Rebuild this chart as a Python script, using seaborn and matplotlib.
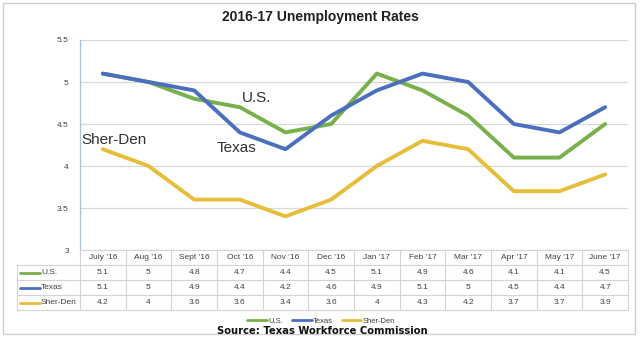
import matplotlib
matplotlib.use("Agg")
import matplotlib.pyplot as plt
from matplotlib.lines import Line2D
from matplotlib.patches import Rectangle
import seaborn as sns
import pandas as pd

months = ["July '16", "Aug '16", "Sept '16", "Oct '16", "Nov '16", "Dec '16",
          "Jan '17", "Feb '17", "Mar '17", "Apr '17", "May '17", "June '17"]
us = [5.1, 5, 4.8, 4.7, 4.4, 4.5, 5.1, 4.9, 4.6, 4.1, 4.1, 4.5]
texas = [5.1, 5, 4.9, 4.4, 4.2, 4.6, 4.9, 5.1, 5, 4.5, 4.4, 4.7]
sherden = [4.2, 4, 3.6, 3.6, 3.4, 3.6, 4, 4.3, 4.2, 3.7, 3.7, 3.9]
series_names = ["U.S.", "Texas", "Sher-Den"]
series_values = [us, texas, sherden]
yticks = [3, 3.5, 4, 4.5, 5, 5.5]
ytick_labels = ["3", "3.5", "4", "4.5", "5", "5.5"]

colors = {"U.S.": "#78B04C", "Texas": "#4A70BD", "Sher-Den": "#E6BE3C"}
zorders = {"U.S.": 3, "Sher-Den": 3, "Texas": 4}

sns.set_style("white")
plt.rcParams["font.family"] = ["Liberation Sans", "DejaVu Sans"]

rows = []
for name, vals in zip(series_names, series_values):
    for i, (m, v) in enumerate(zip(months, vals)):
        rows.append({"idx": i, "month": m, "series": name, "rate": v})
df = pd.DataFrame(rows)

W, H = 640, 338
fig = plt.figure(figsize=(W / 100, H / 100), dpi=100)

def fx(px):
    return px / W

def fy(py):
    return 1 - py / H

L, R, T, B = 80, 628, 40, 250
ax = fig.add_axes([fx(L), fy(B), fx(R) - fx(L), fy(T) - fy(B)])
for name in ["U.S.", "Sher-Den", "Texas"]:
    sub = df[df["series"] == name]
    sns.lineplot(data=sub, x="idx", y="rate", color=colors[name], lw=2.8,
                 ax=ax, legend=False, zorder=zorders[name])
ax.set_xlim(-0.5, 11.5)
ax.set_ylim(3, 5.5)
ax.set_yticks(yticks)
ax.set_yticklabels(ytick_labels, fontsize=6, color="#404040")
ax.set_xticks([])
ax.set_xlabel("")
ax.set_ylabel("")
ax.tick_params(axis="y", length=0, pad=8)
ax.grid(axis="y", color="#D9D9D9", lw=0.9)
ax.set_axisbelow(True)
for s in ["top", "right", "bottom"]:
    ax.spines[s].set_visible(False)
ax.spines["left"].set_color("#A9C0DC")
ax.spines["left"].set_linewidth(0.9)

# in-chart labels
ax.text(3.05, 4.815, "U.S.", fontsize=11, color="#303030", ha="left", va="center")
ax.text(2.5, 4.22, "Texas", fontsize=11, color="#303030", ha="left", va="center")
ax.text(-0.47, 4.31, "Sher-Den", fontsize=11, color="#303030", ha="left", va="center")

# data table
tax = fig.add_axes([fx(L), fy(310), fx(R) - fx(L), fy(250) - fy(310)])
tax.set_xlim(-0.5, 11.5)
tax.set_ylim(4, 0)
tax.axis("off")
gc = "#D4D4D4"
col_px = (R - L) / 12
x_left = -0.5 - (L - 17) / col_px
tax.plot([-0.5, 11.5], [0, 0], color=gc, lw=0.8, clip_on=False)
for r in [1, 2, 3, 4]:
    tax.plot([x_left, 11.5], [r, r], color=gc, lw=0.8, clip_on=False)
for c in range(13):
    tax.plot([c - 0.5, c - 0.5], [0, 4], color=gc, lw=0.8, clip_on=False)
tax.plot([x_left, x_left], [1, 4], color=gc, lw=0.8, clip_on=False)
for i, m in enumerate(months):
    tax.text(i, 0.5, m, ha="center", va="center", fontsize=6, color="#404040")
seg_w = 20 / col_px
for r, (name, vals) in enumerate(zip(series_names, series_values), start=1):
    for i, v in enumerate(vals):
        tax.text(i, r + 0.5, f"{v:g}", ha="center", va="center", fontsize=6, color="#404040")
    x0 = x_left + 3 / col_px
    tax.plot([x0, x0 + seg_w], [r + 0.5, r + 0.5], color=colors[name], lw=2, clip_on=False)
    tax.text(x0 + seg_w + 0.02, r + 0.5, name, ha="left", va="center", fontsize=6, color="#404040")

# legend
handles = [Line2D([0], [0], color=colors[n], lw=2) for n in series_names]
fig.legend(handles, series_names, loc="center", bbox_to_anchor=(fx(321), fy(321)),
           ncol=3, frameon=False, fontsize=5.5, handlelength=2.6, handletextpad=0.1,
           columnspacing=1.2, labelcolor="#404040", borderpad=0, borderaxespad=0)

fig.text(fx(320), fy(17), "2016-17 Unemployment Rates", ha="center", va="center",
         fontsize=10, fontweight="bold", color="#202020")
fig.text(fx(322), fy(331), "Source: Texas Workforce Commission", ha="center", va="center",
         fontsize=7.2, fontweight="bold", color="#101010", family="DejaVu Sans")

fig.patches.append(Rectangle((fx(3), fy(334)), fx(632), fy(3) - fy(334), transform=fig.transFigure,
                             fill=False, edgecolor="#D0D0D0", lw=1))

fig.savefig("out.png", dpi=100)
